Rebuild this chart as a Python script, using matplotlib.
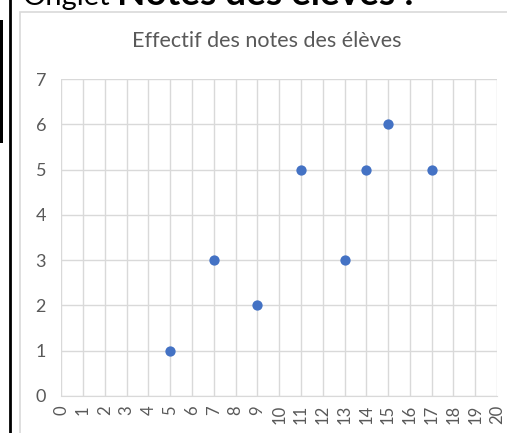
import matplotlib.pyplot as plt
from matplotlib.patches import Rectangle
from matplotlib.lines import Line2D

# note values and how many students got them
notes = [5, 7, 9, 11, 13, 14, 15, 17]
effectifs = [1, 3, 2, 5, 3, 5, 6, 5]
x_ticks = list(range(0, 21))
y_ticks = list(range(0, 8))

title = "Effectif des notes des élèves"
grid_col = "#d9d9d9"
text_col = "#595959"
point_col = "#4472c4"

plt.rcParams["font.family"] = ["Lato", "DejaVu Sans"]

W, H = 507, 433
fig = plt.figure(figsize=(W / 100, H / 100), dpi=100)

# chart frame (excel chart area), cropped by the screenshot
fig.patches.append(Rectangle((20 / W, -0.1), 1.0, (H - 12) / H + 0.1, transform=fig.transFigure,
                             facecolor="white", edgecolor=grid_col, linewidth=1.2, zorder=-5))
# black border lines of the sheet on the left
fig.lines.append(Line2D([10 / W, 10 / W], [0, 1], transform=fig.transFigure, color="black",
                        linewidth=2, zorder=-4))
fig.patches.append(Rectangle((0, (H - 143) / H), 2.5 / W, 123 / H, transform=fig.transFigure,
                             facecolor="black", edgecolor="none", zorder=-4))

# header text of the sheet, cut at the top
t1 = fig.text(23 / W, (H - 5) / H, "Onglet", fontsize=21, color="black", va="baseline", ha="left")
t2 = fig.text(117 / W, (H - 5) / H, "Notes des élèves :", fontsize=21, color="black", va="baseline",
              ha="left", fontweight="bold")
fig.canvas.draw()
# fit the bold part to the width seen in the screenshot (117 -> 413 px)
w2 = t2.get_window_extent().width
t2.set_fontsize(21 * 296 / w2)

ax = fig.add_axes([61.3 / W, (H - 396) / H, (497 - 61.3) / W, (396 - 79) / H])
ax.scatter(notes, effectifs, s=55, color=point_col, zorder=3, linewidths=0)

ax.set_xlim(0, 20)
ax.set_ylim(0, 7)
ax.set_xticks(x_ticks)
ax.set_yticks(y_ticks)
ax.set_xticklabels([str(v) for v in x_ticks], rotation=90, fontsize=12, color=text_col)
ax.set_yticklabels([str(v) for v in y_ticks], fontsize=13, color=text_col)
ax.tick_params(length=0, pad=6.5)
ax.tick_params(axis="y", pad=11)
ax.grid(True, color=grid_col, linewidth=1)
ax.set_axisbelow(True)
for s in ["top", "right", "left"]:
    ax.spines[s].set_visible(False)
ax.spines["bottom"].set_color(grid_col)

fig.text(267 / W, (H - 41) / H, title, fontsize=15.5, color=text_col, ha="center", va="center")

fig.savefig("out.png", dpi=100)
